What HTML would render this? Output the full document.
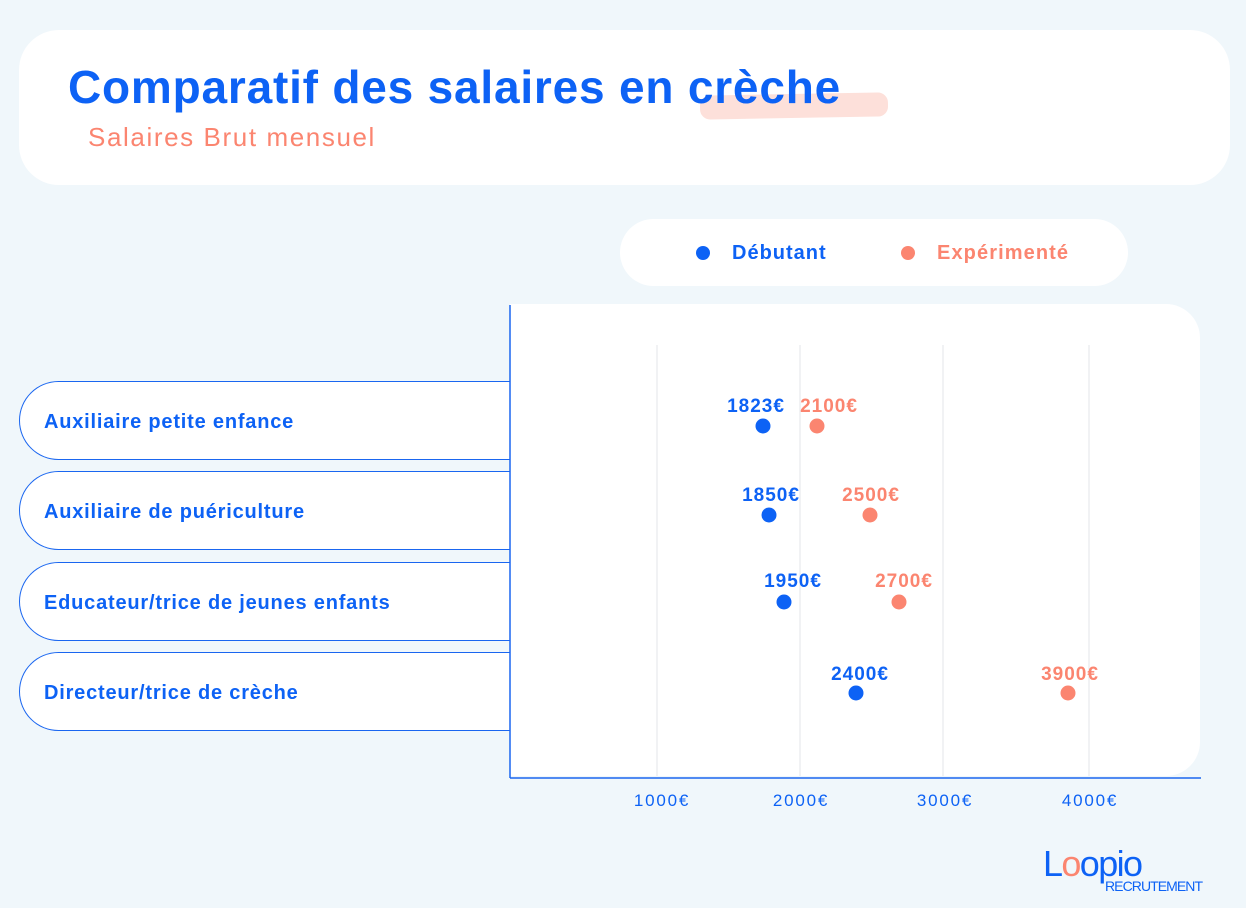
<!DOCTYPE html>
<html><head><meta charset="utf-8"><style>
body{margin:0;width:1246px;height:908px;background:#f0f7fb;font-family:"Liberation Sans",sans-serif;position:relative;overflow:hidden}
.a{position:absolute}
.row{position:absolute;left:19px;width:491px;height:79px;background:#fff;border:1.5px solid #1a66f0;border-right:none;border-radius:40px 0 0 40px;box-sizing:border-box;color:#0d62f5;font-weight:bold;font-size:20px;letter-spacing:0.8px;line-height:81px;padding-left:24px}
</style></head><body>
<div class="a" style="left:19px;top:30px;width:1211px;height:155px;background:#fff;border-radius:40px"></div>
<div class="a" style="left:700px;top:94px;width:188px;height:24px;background:#fde0da;border-radius:10px;transform:rotate(-1deg)"></div>
<div class="a" style="left:68px;top:60px;font-size:46px;letter-spacing:0.8px;font-weight:bold;color:#0d62f5">Comparatif des salaires en crèche</div>
<div class="a" style="left:88px;top:122px;font-size:26px;letter-spacing:1.6px;color:#fb8570">Salaires Brut mensuel</div>
<div class="a" style="left:620px;top:219px;width:508px;height:67px;background:#fff;border-radius:34px"></div>
<div class="a" style="left:696px;top:246px;width:14px;height:14px;border-radius:50%;background:#0d62f5"></div>
<div class="a" style="left:732px;top:242px;font-size:20px;letter-spacing:1px;font-weight:bold;color:#0d62f5">Débutant</div>
<div class="a" style="left:901px;top:246px;width:14px;height:14px;border-radius:50%;background:#fb8570"></div>
<div class="a" style="left:937px;top:242px;font-size:20px;letter-spacing:1.1px;font-weight:bold;color:#fb8570">Expérimenté</div>
<div class="a" style="left:510px;top:304px;width:690px;height:472px;background:#fff;border-radius:0 34px 34px 0"></div>
<div class="row" style="top:381px">Auxiliaire petite enfance</div>
<div class="row" style="top:471px">Auxiliaire de puériculture</div>
<div class="row" style="top:562px">Educateur/trice de jeunes enfants</div>
<div class="row" style="top:652px">Directeur/trice de crèche</div>
<svg class="a" style="left:0;top:0" width="1246" height="908">
<g stroke="#e3e6ea" stroke-width="1"><line x1="657" y1="345" x2="657" y2="776"/><line x1="800" y1="345" x2="800" y2="776"/><line x1="943" y1="345" x2="943" y2="776"/><line x1="1089" y1="345" x2="1089" y2="776"/></g>
<line x1="510" y1="305" x2="510" y2="778" stroke="#1a66f0" stroke-width="1.5"/>
<line x1="510" y1="778" x2="1201" y2="778" stroke="#1a66f0" stroke-width="1.5"/>
<g font-family="Liberation Sans" font-size="17" letter-spacing="1.8" fill="#0d62f5" text-anchor="middle"><text x="662" y="806">1000€</text><text x="801" y="806">2000€</text><text x="945" y="806">3000€</text><text x="1090" y="806">4000€</text></g>
<g font-family="Liberation Sans" font-size="19" letter-spacing="1" font-weight="bold" text-anchor="middle">
<circle cx="763" cy="426" r="7.5" fill="#0d62f5"/><text x="756" y="412" fill="#0d62f5">1823€</text>
<circle cx="817" cy="426" r="7.5" fill="#fb8570"/><text x="829" y="412" fill="#fb8570">2100€</text>
<circle cx="769" cy="515" r="7.5" fill="#0d62f5"/><text x="771" y="501" fill="#0d62f5">1850€</text>
<circle cx="870" cy="515" r="7.5" fill="#fb8570"/><text x="871" y="501" fill="#fb8570">2500€</text>
<circle cx="784" cy="602" r="7.5" fill="#0d62f5"/><text x="793" y="587" fill="#0d62f5">1950€</text>
<circle cx="899" cy="602" r="7.5" fill="#fb8570"/><text x="904" y="587" fill="#fb8570">2700€</text>
<circle cx="856" cy="693" r="7.5" fill="#0d62f5"/><text x="860" y="680" fill="#0d62f5">2400€</text>
<circle cx="1068" cy="693" r="7.5" fill="#fb8570"/><text x="1070" y="680" fill="#fb8570">3900€</text>
</g>
<text x="1043" y="876" font-family="Liberation Sans" font-size="36" fill="#0d62f5" textLength="100">L<tspan fill="#fb8570">o</tspan>opio</text>
<text x="1105" y="891" font-family="Liberation Sans" font-size="14" fill="#0d62f5" textLength="98">RECRUTEMENT</text>
</svg>
</body></html>
